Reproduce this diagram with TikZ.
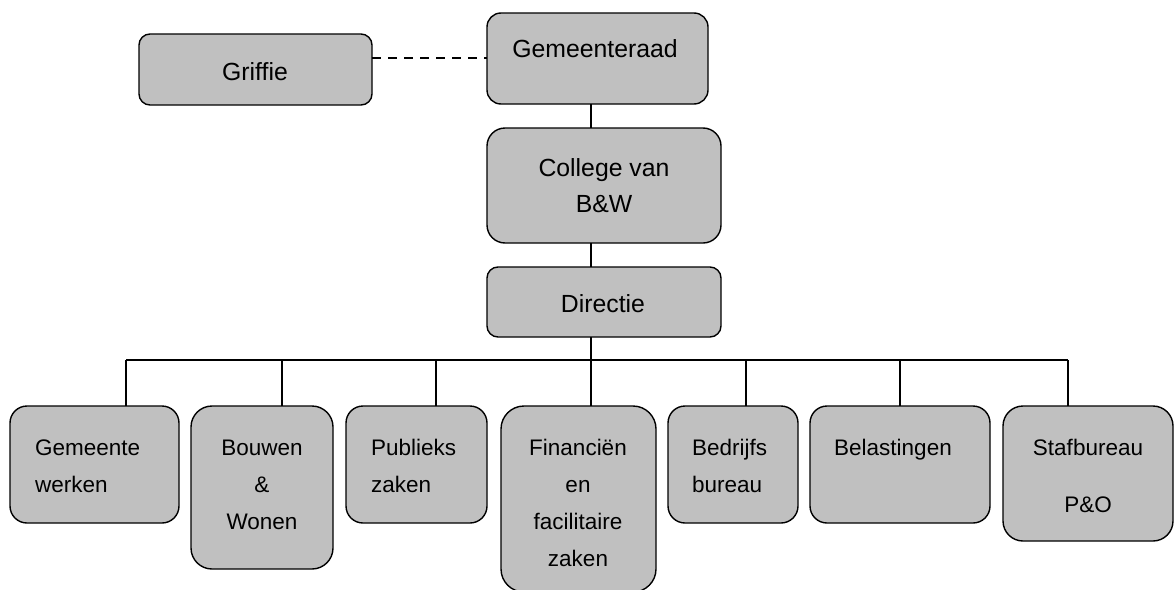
\documentclass[tikz,border=0pt]{standalone}
\usepackage{fontspec}
\setmainfont{Liberation Sans}
\definecolor{boxgray}{HTML}{C0C0C0}
\begin{document}
\begin{tikzpicture}[x=1pt,y=-1pt,
  box/.style={draw=black, line width=1.4pt, fill=boxgray, inner sep=0pt, outer sep=0pt, anchor=north west},
  conn/.style={line width=1.2pt},
  dashconn/.style={line width=1.2pt, dash pattern=on 9pt off 7pt},
  toptext/.style={font=\fontsize{24.8}{36}\selectfont, inner sep=0pt, anchor=north, align=center},
  botc/.style={font=\fontsize{22.5}{37}\selectfont, inner sep=0pt, anchor=north, align=center},
  botl/.style={font=\fontsize{22.5}{37}\selectfont, inner sep=0pt, anchor=north west, align=left}]
\useasboundingbox (0,0) rectangle (1174,589);
% top boxes
\node[box, minimum width=233pt, minimum height=71pt, rounded corners=11pt] (gr) at (139,34) {};
\node[box, minimum width=221pt, minimum height=91pt, rounded corners=14pt] (gemr) at (487,13) {};
\node[box, minimum width=234pt, minimum height=115pt, rounded corners=18pt] (col) at (487,128) {};
\node[box, minimum width=234pt, minimum height=70pt, rounded corners=11pt] (dir) at (487,267) {};
% bottom boxes
\node[box, minimum width=169pt, minimum height=117pt, rounded corners=17pt] (gw) at (10,406) {};
\node[box, minimum width=142pt, minimum height=163pt, rounded corners=21pt] (bw) at (191,406) {};
\node[box, minimum width=141pt, minimum height=117pt, rounded corners=17pt] (pz) at (346,406) {};
\node[box, minimum width=155pt, minimum height=186pt, rounded corners=23pt] (fin) at (501,406) {};
\node[box, minimum width=130pt, minimum height=117pt, rounded corners=17pt] (bb) at (668,406) {};
\node[box, minimum width=180pt, minimum height=117pt, rounded corners=17pt] (bel) at (810,406) {};
\node[box, minimum width=170pt, minimum height=135pt, rounded corners=20pt] (sp) at (1003,406) {};
% texts
\node[toptext] (tgr) at (255,61) {\rule{0pt}{19pt}Griffie};
\node[toptext] (tgemr) at (595,38) {\rule{0pt}{19pt}Gemeenteraad};
\node[toptext] (tcol) at (604,157) {\rule{0pt}{19pt}College van\\B\&W};
\node[toptext] (tdir) at (603,293) {\rule{0pt}{19pt}Directie};
\node[botl] (tgw) at (35,437) {\rule{0pt}{18pt}Gemeente\\werken};
\node[botc] (tbw) at (262,437) {\rule{0pt}{18pt}Bouwen\\\&\\Wonen};
\node[botl] (tpz) at (371,437) {\rule{0pt}{18pt}Publieks\\zaken};
\node[botc] (tfin) at (578,437) {\rule{0pt}{18pt}Financiën\\en\\facilitaire\\zaken};
\node[botl] (tbb) at (692,437) {\rule{0pt}{18pt}Bedrijfs\\bureau};
\node[botl] (tbel) at (834,437) {\rule{0pt}{18pt}Belastingen};
\node[botc] (tsp) at (1088,437) {\rule{0pt}{18pt}Stafbureau\\[20pt]P\&O};
% connectors
\coordinate (dy) at (0,58);
\coordinate (spine) at (591,0);
\coordinate (busL) at (126,360);
\coordinate (busR) at (1068,360);
\coordinate (d2) at (282,360);
\coordinate (d3) at (436,360);
\coordinate (d4) at (591,360);
\coordinate (d5) at (746,360);
\coordinate (d6) at (900,360);
\draw[dashconn] (gr.east |- dy) -- (gemr.west |- dy);
\draw[conn] (gemr.south -| spine) -- (col.north -| spine);
\draw[conn] (col.south -| spine) -- (dir.north -| spine);
\draw[conn] (dir.south -| spine) -- (d4);
\draw[conn] (busL) -- (busR);
\draw[conn] (busL) -- (busL |- gw.north);
\draw[conn] (d2) -- (d2 |- bw.north);
\draw[conn] (d3) -- (d3 |- pz.north);
\draw[conn] (d4) -- (d4 |- fin.north);
\draw[conn] (d5) -- (d5 |- bb.north);
\draw[conn] (d6) -- (d6 |- bel.north);
\draw[conn] (busR) -- (busR |- sp.north);
\end{tikzpicture}
\end{document}
